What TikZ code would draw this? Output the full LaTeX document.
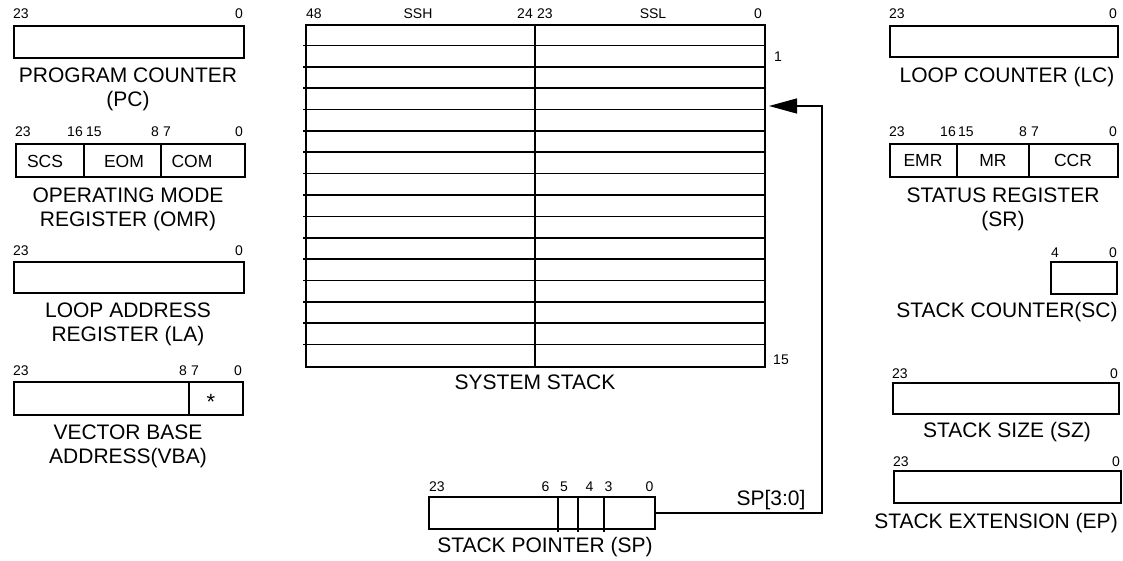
\documentclass[tikz,border=0pt]{standalone}
\usepackage{fontspec}
\setmainfont{Liberation Sans}
\usetikzlibrary{arrows.meta,positioning}
\tikzset{
  >={Triangle[length=28pt,width=15pt]},
  reg/.style={draw=black,line width=1.7pt,inner sep=0pt,anchor=north west},
  bits/.style={inner sep=0pt,font=\fontsize{14pt}{16pt}\selectfont},
  field/.style={inner sep=0pt,font=\fontsize{17.5pt}{19pt}\selectfont},
  caption/.style={inner sep=0pt,align=center,font=\fontsize{21pt}{24pt}\selectfont},
  divider/.style={line width=1.7pt},
  spline/.style={->,line width=1.3pt},
}

\begin{document}
\begin{tikzpicture}[x=1pt,y=-1pt]
  \useasboundingbox (0,0) rectangle (1123,561);
  % left column
  \node[reg,minimum width=230pt,minimum height=32pt] (pc) at (13,25) {};
  \node[bits,anchor=base west] (pc-hi) at (13,19) {23};
  \node[bits,anchor=base east] (pc-lo) at (243,19) {0};
  \node[caption] (pc-name) at (128,89) {PROGRAM COUNTER\\(PC)};

  \node[reg,minimum width=229pt,minimum height=33pt] (omr) at (15,143) {};
  \draw[divider] (84,143) -- (84,176) (161,143) -- (161,176);
  \node[bits,anchor=base west] (omr-23) at (15,137) {23};
  \node[bits,anchor=base east] (omr-16) at (83,137) {16};
  \node[bits,anchor=base west] (omr-15) at (86,137) {15};
  \node[bits,anchor=base east] (omr-8) at (159,137) {8};
  \node[bits,anchor=base west] (omr-7) at (163,137) {7};
  \node[bits,anchor=base east] (omr-0) at (243,137) {0};
  \node[field] (scs) at (45,161) {SCS};
  \node[field] (eom) at (124,161) {EOM};
  \node[field] (com) at (192,161) {COM};
  \node[caption] (omr-name) at (128,209) {OPERATING MODE\\REGISTER (OMR)};

  \node[reg,minimum width=230pt,minimum height=31pt] (la) at (13,261) {};
  \node[bits,anchor=base west] (la-hi) at (13,255) {23};
  \node[bits,anchor=base east] (la-lo) at (243,255) {0};
  \node[caption] (la-name) at (128,324) {LOOP ADDRESS\\REGISTER (LA)};

  \node[reg,minimum width=229pt,minimum height=33pt] (vba) at (13,381) {};
  \draw[divider] (189,381) -- (189,414);
  \node[bits,anchor=base west] (vba-23) at (13,375) {23};
  \node[bits,anchor=base east] (vba-8) at (187,375) {8};
  \node[bits,anchor=base west] (vba-7) at (191,375) {7};
  \node[bits,anchor=base east] (vba-0) at (242,375) {0};
  \node[field,font=\fontsize{22pt}{24pt}\selectfont] (vba-star) at (211,402) {*};
  \node[caption] (vba-name) at (128,446) {VECTOR BASE\\ADDRESS(VBA)};

  % system stack
  \node[reg,minimum width=459pt,minimum height=342pt] (stack) at (305,24) {};
  \foreach \i in {1,...,15}
    \draw[divider] (303,{24+\i*21.375}) -- (766,{24+\i*21.375});
  \draw[divider] (535,24) -- (535,366);
  \node[bits,anchor=base west] (ss-48) at (306,19) {48};
  \node[bits,anchor=base] (ssh) at (418,19) {SSH};
  \node[bits,anchor=base east] (ss-24) at (533,19) {24};
  \node[bits,anchor=base west] (ss-23) at (537,19) {23};
  \node[bits,anchor=base] (ssl) at (653,19) {SSL};
  \node[bits,anchor=base east] (ss-0) at (762,19) {0};
  \node[bits] (row-1) at (778,57) {1};
  \node[bits] (row-15) at (781,360) {15};
  \node[caption] (stack-name) at (535,382) {SYSTEM STACK};

  % stack pointer
  \node[reg,minimum width=226pt,minimum height=32pt] (sp) at (428,496) {};
  \draw[divider] (558,496) -- (558,532) (578,496) -- (578,532) (604,496) -- (604,532);
  \node[bits,anchor=base west] (sp-23) at (429,491) {23};
  \node[bits,anchor=base] (sp-6) at (545.5,491) {6};
  \node[bits,anchor=base] (sp-5) at (564,491) {5};
  \node[bits,anchor=base] (sp-4) at (589.5,491) {4};
  \node[bits,anchor=base] (sp-3) at (608.5,491) {3};
  \node[bits,anchor=base] (sp-0) at (649.5,491) {0};
  \node[caption] (sp-name) at (545,547) {STACK POINTER (SP)};

  \coordinate (top) at (769,106);
  \coordinate (bend) at (822,106);
  \draw[spline] (sp.east) -| (bend) -- (top);
  \node[caption,anchor=base] (sp-bits) at (771,505) {SP[3:0]};

  % right column
  \node[reg,minimum width=228pt,minimum height=31pt] (lc) at (889,25) {};
  \node[bits,anchor=base west] (lc-hi) at (889,19) {23};
  \node[bits,anchor=base east] (lc-lo) at (1117,19) {0};
  \node[caption] (lc-name) at (1007,77) {LOOP COUNTER (LC)};

  \node[reg,minimum width=228pt,minimum height=33pt] (sr) at (889,143) {};
  \draw[divider] (957,143) -- (957,176) (1029,143) -- (1029,176);
  \node[bits,anchor=base west] (sr-23) at (889,137) {23};
  \node[bits,anchor=base east] (sr-16) at (956,137) {16};
  \node[bits,anchor=base west] (sr-15) at (958,137) {15};
  \node[bits,anchor=base east] (sr-8) at (1027,137) {8};
  \node[bits,anchor=base west] (sr-7) at (1031,137) {7};
  \node[bits,anchor=base east] (sr-0) at (1117,137) {0};
  \node[field] (emr) at (923,160) {EMR};
  \node[field] (mr) at (993,160) {MR};
  \node[field] (ccr) at (1073,160) {CCR};
  \node[caption] (sr-name) at (1003,209) {STATUS REGISTER\\(SR)};

  \node[reg,minimum width=66pt,minimum height=32pt] (sc) at (1050,261) {};
  \node[bits,anchor=base west] (sc-hi) at (1051,257) {4};
  \node[bits,anchor=base east] (sc-lo) at (1117,257) {0};
  \node[caption] (sc-name) at (1007,312) {STACK COUNTER(SC)};

  \node[reg,minimum width=226pt,minimum height=31pt] (sz) at (892,382) {};
  \node[bits,anchor=base west] (sz-hi) at (892,378) {23};
  \node[bits,anchor=base east] (sz-lo) at (1118,378) {0};
  \node[caption] (sz-name) at (1007,432) {STACK SIZE (SZ)};

  \node[reg,minimum width=227pt,minimum height=32pt] (ep) at (893,470) {};
  \node[bits,anchor=base west] (ep-hi) at (893,466) {23};
  \node[bits,anchor=base east] (ep-lo) at (1120,466) {0};
  \node[caption] (ep-name) at (996,523) {STACK EXTENSION (EP)};
\end{tikzpicture}
\end{document}
